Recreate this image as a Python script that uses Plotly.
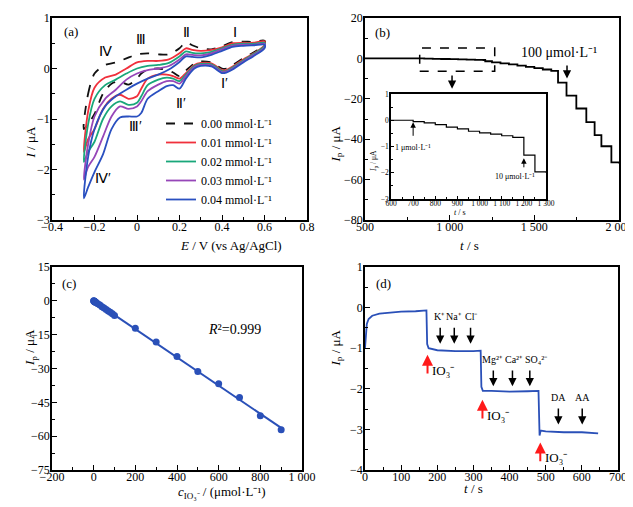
import plotly.graph_objects as go
import numpy as np

FONT = "Liberation Serif, Times New Roman, Times, serif"
TS = " "  # thousands separator used in tick labels

# ---------------- Panel (a): CV curves ----------------
E_up = [-0.25, -0.23, -0.2, -0.15, -0.1, -0.05, 0.0, 0.05, 0.1, 0.15, 0.2, 0.23, 0.26, 0.3, 0.35, 0.4, 0.45, 0.5, 0.55, 0.6]
E_down = [0.6, 0.55, 0.5, 0.45, 0.42, 0.4, 0.35, 0.3, 0.27, 0.23, 0.2, 0.17, 0.14, 0.1, 0.05, 0.02, 0.0, -0.04, -0.08, -0.12, -0.16, -0.2, -0.23, -0.25]

cv_labels = ["0.00 mmol·L⁻¹", "0.01 mmol·L⁻¹", "0.02 mmol·L⁻¹", "0.03 mmol·L⁻¹", "0.04 mmol·L⁻¹"]
cv_colors = ["#111111", "#f0303c", "#19a77a", "#9646b8", "#2a50c0"]

I_up_000 = [-1.2, -0.5, -0.1, 0.07, 0.12, 0.2, 0.28, 0.3, 0.28, 0.28, 0.4, 0.52, 0.46, 0.4, 0.38, 0.44, 0.52, 0.53, 0.53, 0.55]
I_dn_000 = [0.47, 0.32, 0.2, 0.07, 0.0, 0.0, 0.12, 0.14, 0.1, -0.04, -0.15, -0.08, -0.03, 0.0, -0.02, -0.1, -0.2, -0.32, -0.26, -0.3, -0.5, -0.9, -1.1, -1.2]
I_up_001 = [-1.65, -0.85, -0.38, -0.18, -0.12, 0.0, 0.12, 0.15, 0.15, 0.18, 0.3, 0.4, 0.37, 0.35, 0.37, 0.42, 0.5, 0.51, 0.51, 0.54]
I_dn_001 = [0.46, 0.3, 0.18, 0.04, -0.03, -0.03, 0.1, 0.11, 0.07, -0.09, -0.2, -0.15, -0.12, -0.12, -0.2, -0.4, -0.55, -0.6, -0.52, -0.6, -0.8, -1.2, -1.4, -1.65]
I_up_002 = [-1.85, -1.1, -0.6, -0.33, -0.22, -0.1, 0.0, 0.05, 0.07, 0.11, 0.24, 0.34, 0.31, 0.3, 0.33, 0.4, 0.47, 0.49, 0.49, 0.51]
I_dn_002 = [0.44, 0.29, 0.16, 0.02, -0.05, -0.05, 0.08, 0.09, 0.05, -0.12, -0.25, -0.2, -0.18, -0.22, -0.33, -0.55, -0.68, -0.72, -0.65, -0.75, -1.0, -1.45, -1.65, -1.85]
I_up_003 = [-2.2, -1.5, -0.95, -0.6, -0.42, -0.22, -0.1, -0.03, 0.0, 0.05, 0.18, 0.28, 0.27, 0.26, 0.3, 0.38, 0.45, 0.47, 0.47, 0.49]
I_dn_003 = [0.42, 0.27, 0.14, 0.0, -0.06, -0.07, 0.06, 0.07, 0.03, -0.15, -0.3, -0.25, -0.25, -0.32, -0.45, -0.65, -0.75, -0.8, -0.75, -0.95, -1.35, -1.75, -1.95, -2.2]
I_up_004 = [-2.57, -1.75, -1.2, -0.75, -0.55, -0.42, -0.3, -0.2, -0.12, -0.02, 0.13, 0.24, 0.23, 0.22, 0.27, 0.35, 0.43, 0.45, 0.46, 0.47]
I_dn_004 = [0.4, 0.25, 0.12, -0.02, -0.08, -0.09, 0.04, 0.05, 0.0, -0.2, -0.4, -0.33, -0.35, -0.45, -0.6, -0.88, -0.95, -0.95, -0.97, -1.2, -1.7, -2.05, -2.35, -2.57]

cv_up = [I_up_000, I_up_001, I_up_002, I_up_003, I_up_004]
cv_dn = [I_dn_000, I_dn_001, I_dn_002, I_dn_003, I_dn_004]

# ---------------- Panel (b): amperometric i-t ----------------
t_b = [500, 820, 850, 900, 950, 1000, 1050, 1100, 1150, 1200, 1210, 1250, 1300, 1350, 1400, 1450, 1500, 1550, 1600,
       1640, 1690, 1748, 1807, 1856, 1896, 1955, 2000]
I_b = [0.0, 0.0, -0.1, -0.2, -0.3, -0.4, -0.5, -0.6, -0.7, -0.8, -1.4, -2.0, -2.5, -3.0, -3.6, -4.2, -4.8, -5.5, -6.2,
       -12.0, -18.4, -24.8, -31.5, -38.0, -43.5, -51.5, -52.0]
b_xticks = [500, 1000, 1500, 2000]
b_xticktext = ["500", "1" + TS + "000", "1" + TS + "500", "2" + TS + "000"]

# inset
t_in = [600, 700, 750, 800, 850, 900, 950, 1000, 1050, 1100, 1150, 1200, 1250, 1300]
I_in = [0.0, -0.05, -0.1, -0.17, -0.26, -0.33, -0.42, -0.48, -0.53, -0.59, -0.65, -1.33, -1.97, -2.0]
in_xticks = [600, 700, 800, 900, 1000, 1100, 1200, 1300]
in_xticktext = ["600", "700", "800", "900", "1" + TS + "000", "1" + TS + "100", "1" + TS + "200", "1" + TS + "300"]

# ---------------- Panel (c): calibration ----------------
c_conc = [1, 2, 3, 4, 5, 6, 7, 8, 9, 10, 20, 30, 40, 50, 60, 70, 80, 90, 100,
          200, 300, 400, 500, 600, 700, 800, 900]
c_Ip = [-0.08, -0.15, -0.2, -0.27, -0.33, -0.4, -0.47, -0.53, -0.6, -0.65, -1.3, -1.9, -2.6, -3.2, -3.8, -4.5, -5.1, -5.7, -6.5,
        -12.1, -18.3, -24.7, -31.3, -36.8, -42.9, -51.0, -57.1]
c_xticks = [-200, 0, 200, 400, 600, 800, 1000]
c_xticktext = ["−200", "0", "200", "400", "600", "800", "1" + TS + "000"]

# ---------------- Panel (d): interference ----------------
t_d = [0, 2, 5, 10, 20, 40, 70, 100, 140, 170, 172, 176, 200, 250, 300, 320, 322, 326, 350, 400, 450, 480, 483, 486,
       500, 550, 600, 645]
I_d = [-1.0, -0.6, -0.4, -0.28, -0.2, -0.15, -0.12, -0.1, -0.09, -0.07, -0.9, -1.0, -1.05, -1.07, -1.07, -1.06, -1.95,
       -2.05, -2.05, -2.07, -2.06, -2.05, -3.15, -3.03, -3.05, -3.07, -3.07, -3.1]

interf_labels = ["K⁺", "Na⁺", "Cl⁻", "Mg²⁺", "Ca²⁺", "SO₄²⁻", "DA", "AA"]
interf_t = [208, 247, 292, 355, 408, 456, 535, 601]
interf_level = [-0.46, -0.46, -0.46, -1.51, -1.51, -1.51, -2.45, -2.45]
interf_text_t = [206, 247, 296, 353, 413, 474, 535, 601]
io3_t = [173, 325, 485]
io3_level = [-1.16, -2.27, -3.32]

BLUE = "#2a50b8"

fig = go.Figure()

for lab, col, up, dn in zip(cv_labels, cv_colors, cv_up, cv_dn):
    fig.add_trace(go.Scatter(
        x=E_up + E_down, y=up + dn, mode="lines", name=lab,
        line=dict(color=col, width=1.8, dash="dash" if col == "#111111" else "solid", shape="spline", smoothing=0.8),
        xaxis="x", yaxis="y", showlegend=True))

fig.add_trace(go.Scatter(x=t_b, y=I_b, mode="lines", line=dict(color="black", width=1.8, shape="hv"),
                         xaxis="x2", yaxis="y2", showlegend=False))
fig.add_trace(go.Scatter(x=t_in, y=I_in, mode="lines", line=dict(color="black", width=1.2, shape="hv"),
                         xaxis="x5", yaxis="y5", showlegend=False))

slope, icpt = np.polyfit(c_conc, c_Ip, 1)
fit_x = [0, max(c_conc)]
fig.add_trace(go.Scatter(x=fit_x, y=[icpt + slope * v for v in fit_x], mode="lines",
                         line=dict(color=BLUE, width=2), xaxis="x3", yaxis="y3", showlegend=False))
fig.add_trace(go.Scatter(x=[0] + c_conc, y=[0] + c_Ip, mode="markers",
                         marker=dict(color=BLUE, size=7), xaxis="x3", yaxis="y3", showlegend=False))

fig.add_trace(go.Scatter(x=t_d, y=I_d, mode="lines", line=dict(color=BLUE, width=1.8),
                         xaxis="x4", yaxis="y4", showlegend=False))


def axis(rng, dtick, mdtick, domain, anchor, size=12, tlen=5, xax=True, standoff=None, tickvals=None, ticktext=None):
    d = dict(range=rng, tick0=rng[0], dtick=dtick, ticks="inside", ticklen=tlen, tickwidth=1.2, tickcolor="black",
             minor=dict(tick0=rng[0], dtick=mdtick, ticks="inside", ticklen=tlen * 0.6, tickcolor="black"),
             showline=True, linecolor="black", linewidth=1.6, mirror=True, showgrid=False, zeroline=False,
             domain=domain, anchor=anchor, automargin=False, tickangle=0,
             tickfont=dict(family=FONT, size=size, color="black"))
    if standoff is None:
        standoff = -5 if xax else -2
    d["ticklabelstandoff"] = standoff
    if tickvals is not None:
        d.update(tickmode="array", tickvals=tickvals, ticktext=ticktext)
    return d


XA = [44 / 633, 299 / 633]
XB = [357 / 633, 611 / 633]
XC = [44 / 633, 294 / 633]
XD = [357 / 633, 610 / 633]
YTOP = [1 - 212 / 507, 1 - 10 / 507]
YBOT = [1 - 462 / 507, 1 - 259 / 507]

fig.update_layout(
    width=633, height=507, autosize=False,
    margin=dict(l=0, r=0, t=0, b=0),
    paper_bgcolor="white", plot_bgcolor="white",
    font=dict(family=FONT, size=13, color="black"),
    xaxis=axis([-0.4, 0.8], 0.2, 0.1, XA, "y"),
    yaxis=axis([-3, 1], 1, 0.5, YTOP, "x", xax=False),
    xaxis2=axis([500, 2000], 500, 250, XB, "y2", tickvals=b_xticks, ticktext=b_xticktext),
    yaxis2=axis([-80, 20], 20, 10, YTOP, "x2", xax=False),
    xaxis3=axis([-200, 1000], 200, 100, XC, "y3", tickvals=c_xticks, ticktext=c_xticktext),
    yaxis3=axis([-75, 15], 15, 7.5, YBOT, "x3", xax=False),
    xaxis4=axis([0, 700], 100, 50, XD, "y4"),
    yaxis4=axis([-4, 1], 1, 0.5, YBOT, "x4", xax=False),
    xaxis5=axis([600, 1300], 100, 50, [383 / 633, 538 / 633], "y5", size=7.5, tlen=3, standoff=-4,
                tickvals=in_xticks, ticktext=in_xticktext),
    yaxis5=axis([-3, 1], 1, 0.5, [1 - 191 / 507, 1 - 86 / 507], "x5", size=7.5, tlen=3, xax=False, standoff=-1),
    legend=dict(x=153 / 633, y=1 - 101 / 507, xanchor="left", yanchor="top", bgcolor="rgba(0,0,0,0)",
                font=dict(family=FONT, size=12), tracegroupgap=0, itemwidth=30),
)

ann = []


def txt(x, y, s, size=13, angle=0):
    ann.append(dict(x=x, y=y, text=s, showarrow=False, xref="paper", yref="paper",
                    font=dict(family=FONT, size=size, color="black"), textangle=angle))


def label(x, y, s, ref, size=13, **kw):
    d = dict(x=x, y=y, xref="x" + ref, yref="y" + ref, text=s, showarrow=False,
             font=dict(family=FONT, size=size, color="black"))
    d.update(kw)
    ann.append(d)


def arrow(x, y0, y1, ref, color="black", width=1.5):
    ann.append(dict(x=x, y=y1, ax=x, ay=y0, xref="x" + ref, yref="y" + ref, axref="x" + ref, ayref="y" + ref,
                    text="", showarrow=True, arrowhead=2, arrowsize=1.1, arrowwidth=width, arrowcolor=color))


# axis titles
txt(170 / 633, 1 - 238 / 507, "<i>E</i> / V (vs Ag/AgCl)")
txt(12 / 633, 1 - 117 / 507, "<i>I</i> / μA", angle=-90)
txt(473 / 633, 1 - 238 / 507, "<i>t</i> / s")
txt(328 / 633, 1 - 115 / 507, "<i>I</i><sub>p</sub> / μA", angle=-90)
txt(168 / 633, 1 - 495 / 507, "<i>c</i><sub>IO₃⁻</sub> / (μmol·L⁻¹)")
txt(12 / 633, 1 - 360 / 507, "<i>I</i><sub>p</sub> / μA", angle=-90)
txt(477 / 633, 1 - 490 / 507, "<i>t</i> / s")
txt(328 / 633, 1 - 360 / 507, "<i>I</i><sub>p</sub> / μA", angle=-90)
txt(460 / 633, 1 - 204 / 507, "<i>t</i> / s", size=8)
txt(366 / 633, 1 - 140 / 507, "<i>I</i><sub>p</sub> / μA", size=7.5, angle=-90)

# panel (a)
label(-0.31, 0.74, "(a)", "")
for s, x, y in [("Ⅳ", -0.15, 0.34), ("Ⅲ", 0.017, 0.57), ("Ⅱ", 0.232, 0.72), ("Ⅰ", 0.46, 0.72),
                ("Ⅰ′", 0.413, -0.29), ("Ⅱ′", 0.209, -0.69), ("Ⅲ′", -0.006, -1.15), ("Ⅳ′", -0.16, -2.17)]:
    label(x, y, s, "", size=14)

# panel (b)
label(606, 12.8, "(b)", "2")
label(1643, 3, "100 μmol·L⁻¹", "2", size=14)
arrow(1693, -2.8, -10, "2")
arrow(1014, -7.7, -15, "2")
label(700, -1.05, "1 μmol·L⁻¹", "5", size=8)
arrow(700, -0.65, -0.08, "5", width=1)
label(1160, -2.15, "10 μmol·L⁻¹", "5", size=8)
arrow(1200, -1.85, -1.45, "5", width=1)

# panel (c)
label(-117, 7.9, "(c)", "3")
label(676, -12.5, "<i>R</i>²=0.999", "3", size=14)

# panel (d)
label(50, 0.6, "(d)", "4")
for lab, t, tt, lev in zip(interf_labels, interf_t, interf_text_t, interf_level):
    arrow(t, lev, lev - 0.43, "4")
    label(tt, lev + 0.23, lab, "4", size=10)
for t, lev in zip(io3_t, io3_level):
    arrow(t, lev - 0.5, lev, "4", color="#ff1a1a", width=2)
    label(t + 8, lev - 0.38, "IO₃⁻", "4", size=13, xanchor="left")

fig.update_layout(annotations=ann)

fig.add_shape(type="rect", x0=823, x1=1266, y0=-6.4, y1=5.1, xref="x2", yref="y2",
              line=dict(color="black", width=1.5, dash="dash"), fillcolor="rgba(0,0,0,0)")

fig.write_html("out.html")
